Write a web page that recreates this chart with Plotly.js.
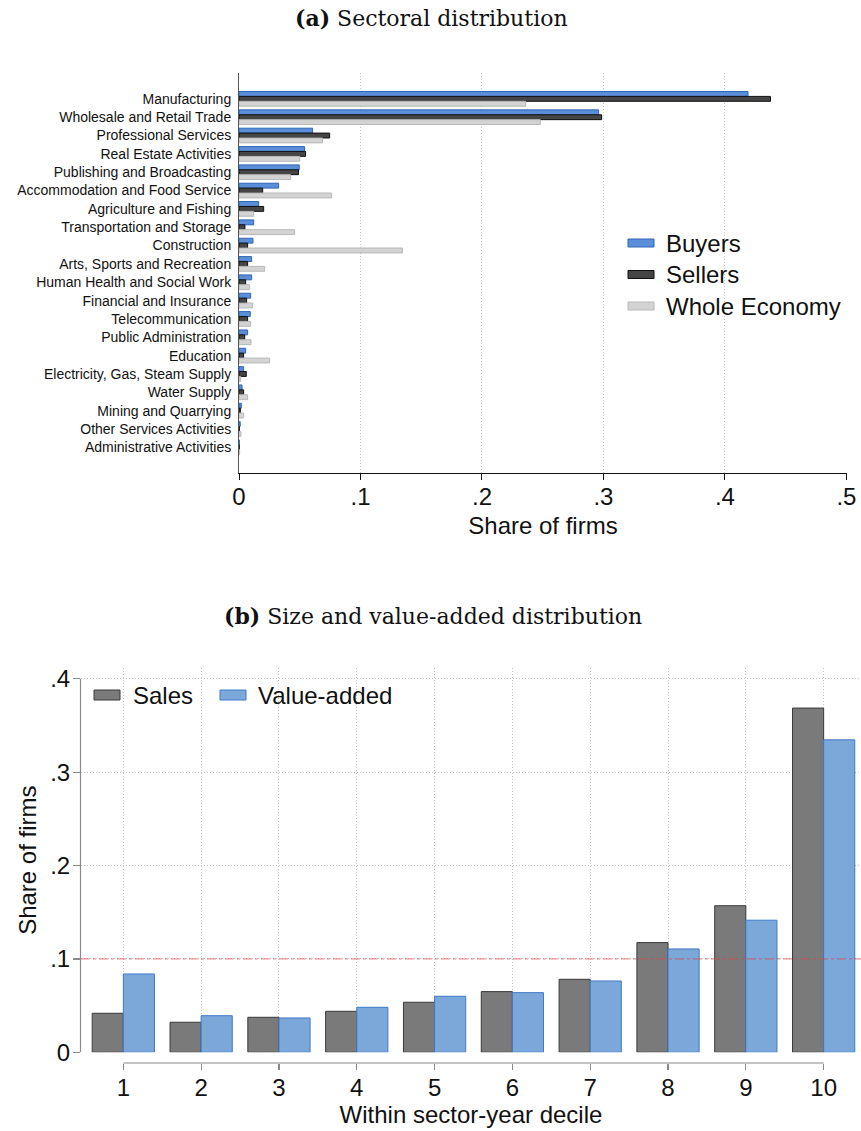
<!DOCTYPE html>
<html>
<head>
<meta charset="utf-8">
<script src="https://cdn.plot.ly/plotly-3.0.1.min.js"></script>
<style>
  html, body { margin: 0; padding: 0; background: #fff; }
  #chart { width: 861px; height: 1131px; }
</style>
</head>
<body>
<div id="chart"></div>
<script>
// Panel (a): share of firms by sector
const sectors = [
  'Manufacturing', 'Wholesale and Retail Trade', 'Professional Services',
  'Real Estate Activities', 'Publishing and Broadcasting',
  'Accommodation and Food Service', 'Agriculture and Fishing',
  'Transportation and Storage', 'Construction', 'Arts, Sports and Recreation',
  'Human Health and Social Work', 'Financial and Insurance',
  'Telecommunication', 'Public Administration', 'Education',
  'Electricity, Gas, Steam Supply', 'Water Supply', 'Mining and Quarrying',
  'Other Services Activities', 'Administrative Activities'
];
const buyers = [0.419, 0.296, 0.0606, 0.054, 0.0496, 0.0326, 0.0162, 0.0121, 0.0115, 0.0104,
                0.0104, 0.0096, 0.0093, 0.0071, 0.0055, 0.0038, 0.0025, 0.0019, 0.0010, 0.0003];
const sellers = [0.4375, 0.2985, 0.0746, 0.0548, 0.049, 0.0195, 0.0203, 0.0049, 0.0071, 0.0071,
                 0.0055, 0.0063, 0.0071, 0.0047, 0.0038, 0.0060, 0.0038, 0.0011, 0.0003, 0.0002];
const wholeEconomy = [0.236, 0.248, 0.0688, 0.050, 0.0425, 0.0762, 0.0121, 0.0458, 0.1346, 0.0211,
                      0.0088, 0.0112, 0.0096, 0.0099, 0.0252, 0.0014, 0.0071, 0.0038, 0.0016, 0.0005];
const sectorSeries = ['Buyers', 'Sellers', 'Whole Economy'];
const shareTicksA = [0, 0.1, 0.2, 0.3, 0.4, 0.5];
const shareTickTextA = ['0', '.1', '.2', '.3', '.4', '.5'];

// Panel (b): share of firms by within sector-year decile
const deciles = [1, 2, 3, 4, 5, 6, 7, 8, 9, 10];
const sales = [0.0418, 0.0322, 0.0375, 0.0439, 0.0536, 0.065, 0.0782, 0.1175, 0.157, 0.3687];
const valueAdded = [0.0839, 0.0392, 0.0368, 0.0482, 0.060, 0.0639, 0.0764, 0.1107, 0.1415, 0.3347];
const decileSeries = ['Sales', 'Value-added'];
const shareTicksB = [0, 0.1, 0.2, 0.3, 0.4];
const shareTickTextB = ['0', '.1', '.2', '.3', '.4'];
const uniformShare = 0.1;

const W = 861, H = 1131;
const px = x => x / W;            // horizontal pixel -> paper
const py = y => 1 - y / H;        // vertical pixel -> paper

const SANS = 'Liberation Sans, Arial, sans-serif';
const SERIF = 'DejaVu Serif, Liberation Serif, serif';
const GRID = '#c4c4c4';
const GRID_DASH = '1px,2px';

const colA = {
  fill: ['#5a8ed8', '#454545', '#d3d3d3'],
  line: ['#2f66b8', '#111111', '#b8b8b8']
};
const colB = {
  fill: ['#7a7a7a', '#7ba7d9'],
  line: ['#3a3a3a', '#3f7acb']
};

const seriesA = [buyers, sellers, wholeEconomy];
const traces = seriesA.map((vals, i) => ({
  type: 'bar', orientation: 'h',
  x: vals, y: sectors, name: sectorSeries[i],
  xaxis: 'x', yaxis: 'y',
  marker: { color: colA.fill[i], line: { color: colA.line[i], width: 1 } },
  showlegend: false, hoverinfo: 'x+y'
}));

[sales, valueAdded].forEach((vals, i) => traces.push({
  type: 'bar', x: deciles, y: vals, name: decileSeries[i],
  xaxis: 'x2', yaxis: 'y2',
  marker: { color: colB.fill[i], line: { color: colB.line[i], width: 1 } },
  showlegend: false
}));

const shapes = [];
const annotations = [];

// Legend for panel (a)
const legA = { x: 628, w: 26, h: 8, y0: 243, dy: 31.5, tx: 664 };
sectorSeries.forEach((name, i) => {
  const yc = legA.y0 + i * legA.dy;
  shapes.push({ type: 'rect', xref: 'paper', yref: 'paper',
    x0: px(legA.x), x1: px(legA.x + legA.w), y0: py(yc + legA.h / 2), y1: py(yc - legA.h / 2),
    fillcolor: colA.fill[i], line: { color: colA.line[i], width: 1 } });
  annotations.push({ xref: 'paper', yref: 'paper', x: px(legA.tx), y: py(yc),
    xanchor: 'left', yanchor: 'middle', showarrow: false, text: name,
    font: { family: SANS, size: 24, color: '#111' } });
});

// Legend for panel (b)
const legB = [{ x: 94, tx: 131 }, { x: 220, tx: 256 }];
decileSeries.forEach((name, i) => {
  const yc = 695;
  shapes.push({ type: 'rect', xref: 'paper', yref: 'paper',
    x0: px(legB[i].x), x1: px(legB[i].x + 26), y0: py(yc + 5), y1: py(yc - 5),
    fillcolor: colB.fill[i], line: { color: colB.line[i], width: 1 } });
  annotations.push({ xref: 'paper', yref: 'paper', x: px(legB[i].tx), y: py(yc),
    xanchor: 'left', yanchor: 'middle', showarrow: false, text: name,
    font: { family: SANS, size: 24, color: '#111' } });
});

// Panel (b) axis lines span only the labelled range
shapes.push({ type: 'line', xref: 'x2', yref: 'paper',
  x0: deciles[0], x1: deciles[deciles.length - 1], y0: py(1063), y1: py(1063),
  line: { color: '#8a8a8a', width: 1.2 } });
shapes.push({ type: 'line', xref: 'paper', yref: 'y2',
  x0: px(80.5), x1: px(80.5), y0: shareTicksB[0], y1: shareTicksB[shareTicksB.length - 1],
  line: { color: '#8a8a8a', width: 1.2 } });
// Uniform decile share reference line
shapes.push({ type: 'line', xref: 'x2 domain', yref: 'y2', layer: 'above',
  x0: 0, x1: 1, y0: uniformShare, y1: uniformShare,
  line: { color: 'rgba(225,70,70,0.75)', width: 1, dash: 'dashdot' } });

// Panel titles
annotations.push({ xref: 'paper', yref: 'paper', x: px(431), y: py(18),
  xanchor: 'center', yanchor: 'middle', showarrow: false,
  text: '<b>(a)</b> Sectoral distribution', font: { family: SERIF, size: 22, color: '#111' } });
annotations.push({ xref: 'paper', yref: 'paper', x: px(433), y: py(616),
  xanchor: 'center', yanchor: 'middle', showarrow: false,
  text: '<b>(b)</b> Size and value-added distribution', font: { family: SERIF, size: 22, color: '#111' } });

const layout = {
  width: W, height: H,
  margin: { l: 0, r: 0, t: 0, b: 0 },
  paper_bgcolor: '#fff', plot_bgcolor: '#fff',
  showlegend: false,
  barmode: 'group', bargap: 0.2, bargroupgap: 0,
  font: { family: SANS, color: '#111' },
  xaxis: {
    domain: [px(239), px(847)], anchor: 'y',
    range: [0, 0.5005],
    tickmode: 'array', tickvals: shareTicksA, ticktext: shareTickTextA,
    ticks: 'outside', ticklen: 6, tickcolor: '#111', tickwidth: 1,
    ticklabelstandoff: -4,
    tickfont: { family: SANS, size: 24, color: '#111' },
    showline: true, linecolor: '#111', linewidth: 1,
    showgrid: true, gridcolor: GRID, griddash: GRID_DASH, gridwidth: 1,
    zeroline: false,
    title: { text: 'Share of firms', font: { family: SANS, size: 24, color: '#111' }, standoff: 8 }
  },
  yaxis: {
    domain: [py(473), py(73)], anchor: 'x',
    type: 'category', categoryorder: 'array', categoryarray: sectors,
    range: [20.40, -1.41],
    ticks: '', showgrid: false, zeroline: false,
    showline: true, linecolor: '#555', linewidth: 1,
    ticklabelstandoff: 4,
    tickfont: { family: SANS, size: 14, color: '#111' }
  },
  xaxis2: {
    domain: [px(81), 1], anchor: 'free', position: py(1063),
    range: [0.456, 10.48],
    tickmode: 'array', tickvals: deciles, ticktext: deciles.map(String),
    ticks: 'outside', ticklen: 6, tickcolor: '#8a8a8a', tickwidth: 1.2,
    ticklabelstandoff: -3,
    tickfont: { family: SANS, size: 24, color: '#111' },
    showline: false,
    showgrid: true, gridcolor: GRID, griddash: GRID_DASH, gridwidth: 1,
    zeroline: false,
    title: { text: 'Within sector-year decile', font: { family: SANS, size: 24, color: '#111' }, standoff: 6 }
  },
  yaxis2: {
    domain: [py(1052.3), py(668)], anchor: 'x2',
    range: [0, 0.4116],
    tickmode: 'array', tickvals: shareTicksB, ticktext: shareTickTextB,
    ticks: 'outside', ticklen: 7, tickcolor: '#8a8a8a', tickwidth: 1.2,
    ticklabelstandoff: -2,
    tickfont: { family: SANS, size: 24, color: '#111' },
    showline: false,
    showgrid: true, gridcolor: GRID, griddash: GRID_DASH, gridwidth: 1,
    zeroline: false,
    title: { text: 'Share of firms', font: { family: SANS, size: 24, color: '#111' }, standoff: 6 }
  },
  shapes: shapes,
  annotations: annotations
};

Plotly.newPlot('chart', traces, layout, { staticPlot: true, displayModeBar: false });
</script>
</body>
</html>
